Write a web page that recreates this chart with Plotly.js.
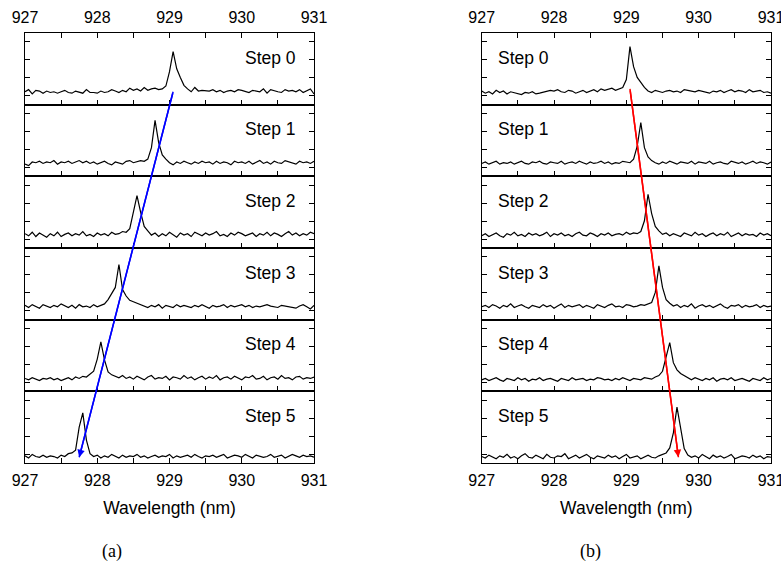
<!DOCTYPE html>
<html><head><meta charset="utf-8">
<script src="https://cdn.plot.ly/plotly-3.0.1.min.js"></script>
<style>html,body{margin:0;padding:0;background:#fff}#chart{width:781px;height:567px}</style>
</head><body><div id="chart"></div>
<script>
// Wavelength grid (nm)
const wavelength = [927.00,927.05,927.10,927.15,927.20,927.25,927.30,927.35,927.40,927.45,
  927.50,927.55,927.60,927.65,927.70,927.75,927.80,927.85,927.90,927.95,
  928.00,928.05,928.10,928.15,928.20,928.25,928.30,928.35,928.40,928.45,
  928.50,928.55,928.60,928.65,928.70,928.75,928.80,928.85,928.90,928.95,
  929.00,929.05,929.10,929.15,929.20,929.25,929.30,929.35,929.40,929.45,
  929.50,929.55,929.60,929.65,929.70,929.75,929.80,929.85,929.90,929.95,
  930.00,930.05,930.10,930.15,930.20,930.25,930.30,930.35,930.40,930.45,
  930.50,930.55,930.60,930.65,930.70,930.75,930.80,930.85,930.90,930.95,931.00];

// Panel (a): peak moves to shorter wavelength
const stepA0 = [18,21,15,20,19,16,19,17,18,16,18,20,17,16,19,18,16,21,17,17,
  16,19,17,18,21,19,17,20,18,23,20,22,19,24,20,22,23,21,22,
  26,46,74,50,38,27,22,
  18,24,19,20,20,19,21,18,20,17,19,20,18,21,20,19,17,20,19,18,22,16,21,19,18,17,21,19,20,18,21,17,20,22,15];
const stepA1 = [17,15,20,19,21,18,20,19,22,17,20,19,21,18,20,22,19,21,18,20,17,19,21,18,16,20,19,17,21,22,19,20,22,21,
  24,40,78,47,30,24,
  19,16,20,18,21,19,17,20,18,21,19,20,17,21,18,20,19,16,21,19,20,18,21,17,19,22,18,20,17,21,19,18,22,20,19,17,21,19,20,18,21];
const stepA2 = [20,17,22,16,21,18,15,20,17,22,16,19,21,17,20,18,23,17,19,16,21,18,20,17,22,19,20,23,22,
  27,50,73,50,30,24,
  18,21,16,20,17,22,19,15,21,18,20,16,22,19,17,21,18,20,23,17,19,16,21,18,22,20,17,19,21,16,20,18,22,17,21,19,16,20,23,18,21,17,20,18,22,20];
const stepA3 = [20,17,21,18,16,21,19,17,20,18,22,19,17,20,16,21,18,19,17,21,18,20,22,
  28,36,45,77,42,33,27,25,23,
  21,19,17,20,18,21,16,20,19,17,21,18,20,19,17,20,18,21,19,16,20,18,19,21,17,20,18,19,21,18,20,17,19,18,20,21,19,18,17,20,19,18,17,16,19,21,18,15,20];
const stepA4 = [18,16,19,17,15,18,17,19,16,18,15,17,19,16,20,18,
  21,20,24,28,45,69,44,27,23,
  21,19,22,18,20,17,21,19,16,20,22,17,19,18,21,16,20,19,17,22,18,20,16,19,21,17,20,18,22,16,19,20,17,21,18,16,20,19,22,17,18,21,16,19,20,17,22,18,19,16,20,21,17,19,18,20];
const stepA5 = [10,7,12,9,8,11,8,10,9,7,11,9,13,
  14,18,50,70,32,13,
  9,11,7,10,8,12,9,7,11,8,10,9,12,8,10,7,9,11,8,10,9,12,7,10,8,9,11,8,12,9,7,10,9,11,8,10,12,7,9,11,10,8,12,9,7,11,10,8,9,12,8,10,11,7,9,12,10,8,11,9,10,8];

// Panel (b): peak moves to longer wavelength
const stepB0 = [19,16,18,15,20,17,19,15,18,17,16,14,17,16,18,15,16,17,18,20,19,21,18,17,20,19,16,18,20,17,19,21,18,22,20,21,23,20,22,24,
  35,81,53,38,31,24,
  19,17,20,18,17,19,20,18,19,17,21,20,19,18,20,19,17,16,19,18,20,17,19,21,18,20,19,17,21,18,19,20,17,18,16];
const stepB1 = [18,20,17,19,21,17,19,18,20,17,19,21,18,17,20,19,21,18,17,20,19,18,21,17,19,20,18,21,19,17,20,18,19,21,18,20,17,19,18,21,20,19,
  24,42,75,40,27,22,
  19,17,20,18,21,19,17,20,19,18,21,17,20,19,18,21,17,19,20,18,17,21,19,18,20,17,19,21,18,20,19,17,20];
const stepB2 = [17,20,16,19,21,17,15,20,18,22,17,19,16,21,18,20,17,19,22,16,20,18,21,17,19,16,20,22,18,17,21,19,16,20,18,21,17,19,20,18,22,19,21,20,
  23,38,75,48,30,24,
  19,21,17,20,18,16,21,19,17,22,18,20,16,19,21,17,20,18,22,16,19,21,17,20,18,19,16,21,18,20,17];
const stepB3 = [18,20,17,21,19,16,20,18,22,17,19,21,18,16,20,19,17,21,18,20,16,19,22,17,20,18,19,21,17,20,18,16,21,19,17,20,22,18,19,17,21,20,18,19,21,20,22,
  24,38,75,45,28,23,
  19,21,17,20,18,22,16,19,21,18,20,17,19,22,18,16,20,19,21,17,20,18,19,21,17,20,18,19];
const stepB4 = [16,18,15,17,19,16,14,18,17,15,19,16,18,14,17,16,19,15,17,18,16,14,18,17,15,19,16,17,18,15,17,16,19,18,16,17,15,18,16,19,17,15,18,17,16,19,18,17,20,22,
  28,50,68,40,30,25,22,
  18,16,19,17,15,18,16,19,14,17,18,16,19,15,17,18,16,14,18,17,15,19,16,18];
const stepB5 = [9,7,11,8,6,10,8,12,7,9,6,10,13,8,7,11,9,6,12,8,7,10,9,13,6,8,11,7,9,12,8,6,10,9,7,11,8,10,6,9,12,7,8,10,6,9,11,8,7,10,12,14,
  21,42,78,50,20,11,
  8,10,7,12,9,6,11,8,10,7,9,12,6,8,10,9,7,11,8,10,6,9,8];

const stepLabels = ['Step 0','Step 1','Step 2','Step 3','Step 4','Step 5'];
const panelLabels = ['(a)','(b)'];
const tickVals = [927,927.5,928,928.5,929,929.5,930,930.5,931];
const tickText = ['927','','928','','929','','930','','931'];
const yTickVals = [12.5,37.5,62.5,87.5];
const axisTitle = 'Wavelength (nm)';

// Arrows: wavelength (tail, head) and vertical position in step-panel units (0 = top of Step 0, 6 = bottom of Step 5)
const arrowAx = [929.05, 927.75];
const arrowAy = [0.82, 5.92];
const arrowBx = [929.05, 929.72];
const arrowBy = [0.78, 5.92];

const seriesA = [stepA0, stepA1, stepA2, stepA3, stepA4, stepA5];
const seriesB = [stepB0, stepB1, stepB2, stepB3, stepB4, stepB5];

const FONT = 'Liberation Sans, Arial, Helvetica, sans-serif';
const W = 781, H = 567;
const M = {l: 25, r: 10, t: 33, b: 104};
const plotW = W - M.l - M.r;
const domA = [0, 289 / plotW];
const domB = [(481.7 - M.l) / plotW, 1];

const traces = [];
const layout = {
  width: W, height: H,
  margin: M,
  paper_bgcolor: '#ffffff',
  plot_bgcolor: 'rgba(0,0,0,0)',
  showlegend: false,
  font: {family: FONT, size: 16, color: '#000'},
  annotations: []
};

function addPanel(series, offset, xdom, labelX, labelAnchor) {
  for (let k = 0; k < 6; k++) {
    const n = offset + k + 1;
    const xa = 'xaxis' + (n === 1 ? '' : n);
    const ya = 'yaxis' + (n === 1 ? '' : n);
    const xr = 'x' + (n === 1 ? '' : n);
    const yr = 'y' + (n === 1 ? '' : n);
    traces.push({
      x: wavelength, y: series[k], xaxis: xr, yaxis: yr,
      type: 'scatter', mode: 'lines',
      line: {color: '#000', width: 1.2},
      hoverinfo: 'skip'
    });
    const isTop = k === 0, isBottom = k === 5;
    layout[xa] = {
      domain: xdom, anchor: yr, range: [927, 931],
      tickvals: tickVals, ticktext: tickText,
      ticks: 'inside', ticklen: 5, tickwidth: 1, tickcolor: '#000',
      showticklabels: isTop || isBottom,
      side: isTop ? 'top' : 'bottom',
      mirror: isTop ? 'ticks' : true,
      showline: true, linecolor: '#000', linewidth: 1,
      showgrid: false, zeroline: false,
      ticklabelstandoff: 3,
      ticklabeloverflow: 'allow',
      tickfont: {family: FONT, size: 16, color: '#000'}
    };
    if (isBottom) {
      layout[xa].title = {text: axisTitle, font: {family: FONT, size: 17.5, color: '#000'}, standoff: 13};
    }
    layout[ya] = {
      domain: [1 - (k + 1) / 6, 1 - k / 6], anchor: xr, range: [0, 100],
      tickvals: yTickVals, ticks: 'inside', ticklen: 5, tickwidth: 1, tickcolor: '#000',
      showticklabels: false, mirror: 'ticks',
      showline: true, linecolor: '#000', linewidth: 1,
      showgrid: false, zeroline: false
    };
    layout.annotations.push({
      xref: xr + ' domain', yref: yr + ' domain',
      x: labelX, y: 0.655, xanchor: labelAnchor, yanchor: 'middle',
      text: stepLabels[k], showarrow: false,
      font: {family: FONT, size: 17.5, color: '#000'}
    });
  }
}
addPanel(seriesA, 0, domA, 0.945, 'right');
addPanel(seriesB, 6, domB, 0.05, 'left');

// Overlay axes spanning each whole panel, for the arrows
function addArrow(n, xdom, ax, ay, color) {
  const xr = 'x' + n, yr = 'y' + n;
  layout['xaxis' + n] = {domain: xdom, anchor: yr, range: [927, 931], visible: false};
  layout['yaxis' + n] = {domain: [0, 1], anchor: xr, range: [6, 0], visible: false};
  traces.push({x: ax, y: ay, xaxis: xr, yaxis: yr, type: 'scatter', mode: 'lines',
    line: {color: color, width: 1.5}, hoverinfo: 'skip'});
  layout.annotations.push({
    xref: xr, yref: yr, axref: xr, ayref: yr,
    x: ax[1], y: ay[1], ax: ax[0], ay: ay[0],
    text: '', showarrow: true, arrowhead: 2, arrowsize: 1, arrowwidth: 1.5,
    arrowcolor: color, standoff: 0
  });
}
addArrow(13, domA, arrowAx, arrowAy, '#0000ff');
addArrow(14, domB, arrowBx, arrowBy, '#ff0000');

// Sub-figure captions
const plotH = H - M.t - M.b;
const capY = (H - M.b - 551) / plotH;
[[112, panelLabels[0]], [590, panelLabels[1]]].forEach(([px, t]) => {
  layout.annotations.push({
    xref: 'paper', yref: 'paper', x: (px - M.l) / plotW, y: capY,
    xanchor: 'center', yanchor: 'middle', text: t, showarrow: false,
    font: {family: 'Liberation Serif, Times New Roman, serif', size: 18, color: '#000'}
  });
});

Plotly.newPlot('chart', traces, layout, {staticPlot: true, displayModeBar: false});
</script>
</body></html>
